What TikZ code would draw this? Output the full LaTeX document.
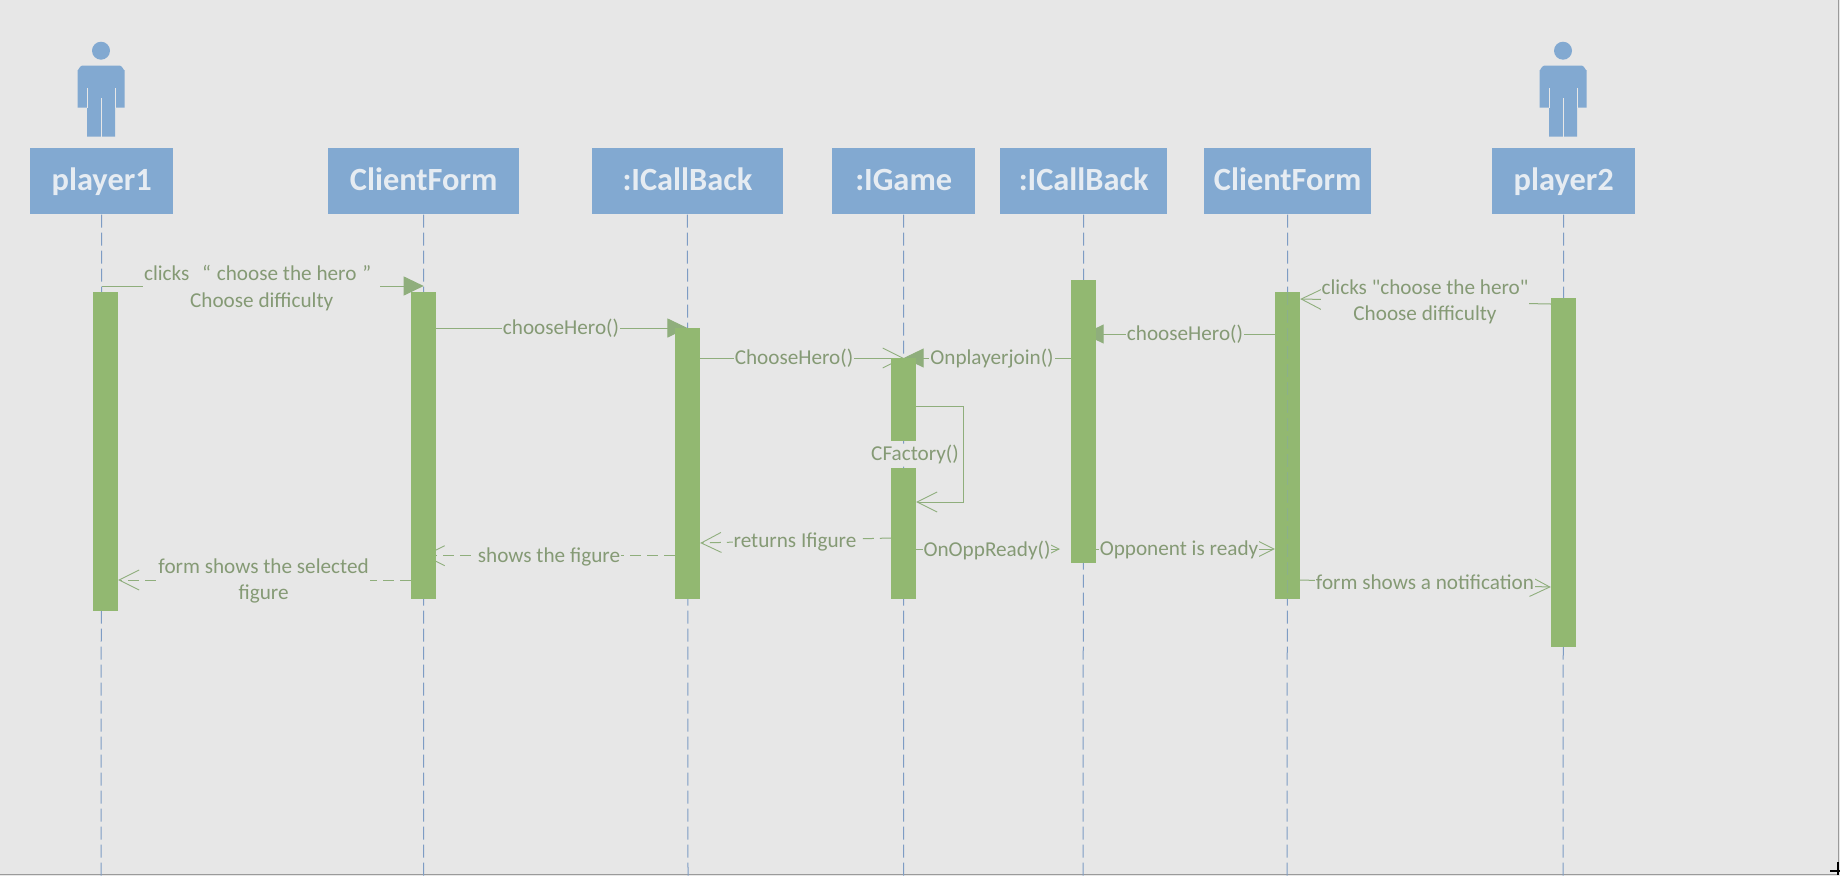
\documentclass[tikz,border=0pt]{standalone}
\usepackage{fontspec}
\setmainfont{Carlito}[Ligatures=TeXOff]
\usetikzlibrary{arrows.meta}
\definecolor{pagebg}{HTML}{E7E7E7}
\definecolor{boxblue}{HTML}{82A9D1}
\definecolor{barblue}{HTML}{7E9CC4}
\definecolor{actgreen}{HTML}{92B871}
\definecolor{msggreen}{HTML}{8FAE7C}
\definecolor{txtgreen}{HTML}{859A75}
\definecolor{boxtext}{HTML}{E6ECF2}
\definecolor{framegrey}{HTML}{9A9A9A}
\pgfdeclarelayer{back}
\pgfsetlayers{back,main}
\tikzset{
  x=1pt,y=-1pt,
  headbox/.style={fill=boxblue,text=boxtext,inner sep=0pt,anchor=north west,
    text height=22pt,text depth=4pt,
    font=\fontsize{32.4}{34}\selectfont\bfseries},
  life/.style={draw=barblue,line width=1pt,dash pattern=on 13pt off 5pt},
  act/.style={fill=actgreen,inner sep=0pt,minimum width=25pt,anchor=north},
  msg/.style={draw=msggreen,line width=1pt},
  ret/.style={msg,dash pattern=on 11pt off 6pt},
  solidtip/.style={-{Triangle[length=20pt,width=19pt,fill=msggreen]}},
  opentip/.style={-{Straight Barb[length=20pt,width=20pt,line width=.9pt]}},
  lbl/.style={fill=pagebg,text=txtgreen,inner sep=1pt,align=center,
    font=\fontsize{21.2}{26}\selectfont},
  person/.pic={
    \fill[boxblue] (0,50.7) circle[radius=9];
    \fill[boxblue] (-23.5,107.7) -- (-23.5,70) to[out=-90,in=180] (-19,65.7) -- (19,65.7) to[out=0,in=-90] (23.5,70) -- (23.5,107.7) -- (14,107.7) -- (14,136.7) -- (-14,136.7) -- (-14,107.7) -- cycle;
    \draw[pagebg,line width=.7pt] (-14,88) -- (-14,107.7) (14,88) -- (14,107.7) (0,98) -- (0,136.7);
  }
}
\begin{document}
\begin{tikzpicture}
\useasboundingbox (0,0) rectangle (1840,876);
\begin{pgfonlayer}{back}
  \fill[pagebg] (0,0) rectangle (1840,876);
  \draw[framegrey,line width=1pt] (0,874.5) -- (1838.5,874.5) -- (1838.5,0);
\end{pgfonlayer}
% screen cursor in the corner
\draw[black,line width=1.2pt] (1830,871) -- (1840,871) (1838,862) -- (1838,875);

% actors
\path (101,0) pic {person};
\path (1563,0) pic {person};

% heads
\node[headbox,minimum width=143pt,minimum height=66pt] (h1) at (30,148) {player1};
\node[headbox,minimum width=191pt,minimum height=66pt] (h2) at (328,148) {ClientForm};
\node[headbox,minimum width=191.5pt,minimum height=66pt] (h3) at (591.5,148) {:ICallBack};
\node[headbox,minimum width=143pt,minimum height=66pt] (h4) at (832,148) {:IGame};
\node[headbox,minimum width=167pt,minimum height=66pt] (h5) at (1000,148) {:ICallBack};
\node[headbox,minimum width=167pt,minimum height=66pt] (h6) at (1204,148) {ClientForm};
\node[headbox,minimum width=143pt,minimum height=66pt] (h7) at (1492,148) {player2};

% lifeline ends
\coordinate (e1) at (101,876);
\coordinate (e2) at (423.5,876);
\coordinate (e3) at (688,876);
\coordinate (e4) at (903.5,876);
\coordinate (e5) at (1083,876);
\coordinate (e6) at (1287,876);
\coordinate (e7) at (1563,876);

% activation bars
\node[act,minimum height=319pt] (a1) at (105.5,292) {};
\node[act,minimum height=307pt] (a2) at (423.5,292) {};
\node[act,minimum height=271pt] (a3) at (687.5,328) {};
\node[act,minimum height=83pt] (a4) at (903.5,358) {};
\node[act,minimum height=131pt] (a4b) at (903.5,468) {};
\node[act,minimum height=283pt] (a5) at (1083.5,280) {};
\node[act,minimum height=307pt] (a6) at (1287.5,292) {};
\node[act,minimum height=349pt] (a7) at (1563.5,298) {};

% row heights
\coordinate (y286) at (0,286);
\coordinate (y328) at (0,328);
\coordinate (y334) at (0,334);
\coordinate (y358) at (0,358);
\coordinate (y406) at (0,406);
\coordinate (y502) at (0,502);
\coordinate (y549) at (0,549);
\coordinate (y556) at (0,555.7);
\coordinate (y580) at (0,580);
\coordinate (loopx) at (963.7,0);
\coordinate (oppreadytip) at (1060,549);

\begin{pgfonlayer}{back}
  \foreach \i in {1,...,7} \draw[life] (h\i.south |- 0,214.7) -- (e\i);
  % messages
  \draw[msg,solidtip] (h1.south |- y286) -- (h2.south |- y286);
  \draw[msg,solidtip] (a2.east |- y328) -- (h3.south |- y328);
  \draw[msg,opentip] (a3.east |- y358) -- (h4.south |- y358);
  \draw[msg,solidtip] (a5.west |- y358) -- (h4.south |- y358);
  \draw[msg,solidtip] (a6.west |- y334) -- (h5.south |- y334);
  \draw[msg,opentip] (a7.west |- 0,304) -- (a6.east |- 0,299);
  \draw[msg,opentip] (a4.east |- y406) -- (loopx |- y406) -- (loopx |- y502) -- (a4b.east |- y502);
  \draw[ret,opentip] (a4b.west |- 0,538) -- (a3.east |- 0,543);
  \draw[msg,opentip] (a4b.east |- y549) -- (oppreadytip);
  \draw[msg,opentip] (a5.east |- y549) -- (a6.west |- y549);
  \draw[msg,opentip] (a6.east |- 0,580) -- (a7.west |- 0,587);
  \draw[ret,opentip] (a3.west |- y556) -- (h2.south |- y556);
  \draw[ret,opentip] (a2.west |- y580) -- (a1.east |- y580);
\end{pgfonlayer}

% lifeline faintly seen through the last ClientForm bar
\draw[life,draw opacity=.3] (a6.north) -- (a6.south);

% labels
\node[lbl] (t1) at (261.7,288) {clicks\ \ \hspace{3pt}“\hspace{6pt}choose the hero\hspace{6pt}”\hspace*{8pt}\\[1pt]Choose difficulty};
\node[lbl] (t2) at (561,328) {chooseHero()};
\node[lbl] (t3) at (794,358) {ChooseHero()};
\node[lbl] (t4) at (992,359) {Onplayerjoin()};
\node[lbl] (t5) at (1185,334) {chooseHero()};
\node[lbl] (t6) at (1425,302) {clicks "choose the hero"\\Choose difficulty};
\node[lbl] (t7) at (915,454) {CFactory()};
\node[lbl] (t8) at (795,542) {returns Ifigure};
\node[lbl,minimum height=30pt] (t9) at (987,550) {OnOppReady()};
\node[lbl,minimum height=30pt] (t10) at (1179,550) {Opponent is ready};
\node[lbl] (t11) at (1425,582.5) {form shows a notification};
\node[lbl] (t12) at (549,557) {shows the figure};
\node[lbl] (t13) at (263.6,580.5) {form shows the selected\\figure};
\end{tikzpicture}
\end{document}
